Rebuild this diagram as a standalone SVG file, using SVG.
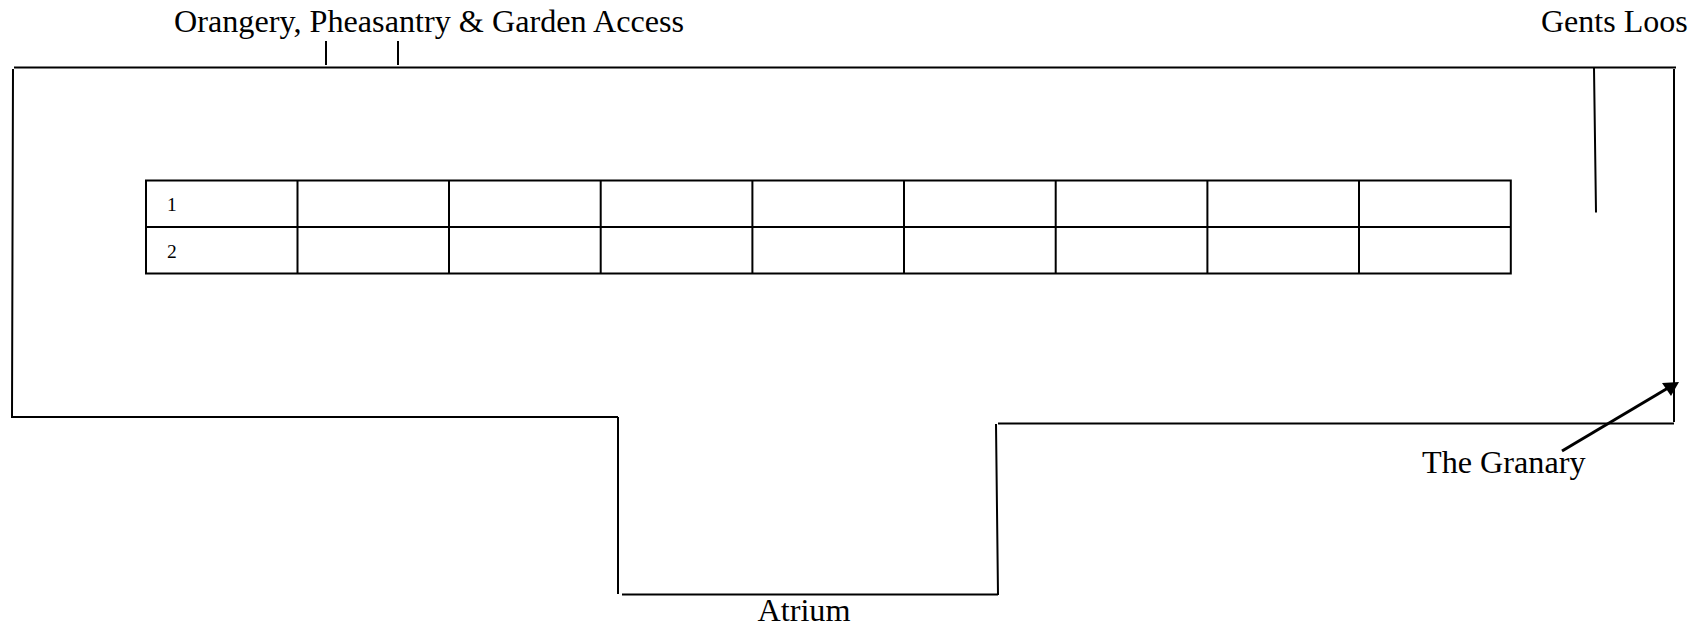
<svg xmlns="http://www.w3.org/2000/svg" width="1703" height="626" viewBox="0 0 1703 626">
<style>
text{font-family:"Liberation Serif","Times New Roman",serif;fill:#000}
.l{font-size:32.2px}
.n{font-size:19.5px}
.w{stroke:#000;stroke-width:2;fill:none}
</style>
<rect width="1703" height="626" fill="#fff"/>
<g id="connectors">
<path class="w" d="M14 67.500H1676M13 69L12 418M12 417H618M618 417V594M622 594.500H998M998 595L996 424M998 423.500H1674M1674 69V422M326 41V65M398 41V65M1594 68L1596 212.500"/>
<path d="M1562 451L1668 388" stroke="#000" stroke-width="3" fill="none"/>
<polygon points="1662,383 1679,382 1671,396" fill="#000"/>
</g>
<g id="table">
<path class="w" d="M146 180.500H1510.800V273.500H146ZM146 227H1510.800M297.500 180.500V273.500M449 180.500V273.500M600.700 180.500V273.500M752.400 180.500V273.500M904 180.500V273.500M1055.700 180.500V273.500M1207.400 180.500V273.500M1359 180.500V273.500"/>
<text class="n" x="167" y="211">1</text>
<text class="n" x="167" y="257.500">2</text>
</g>
<g id="orangery"><text class="l" x="174" y="32">Orangery, Pheasantry &amp; Garden Access</text></g>
<g id="gents"><text class="l" x="1541" y="32" style="font-size:32px">Gents Loos</text></g>
<g id="granary"><text class="l" x="1422" y="473">The Granary</text></g>
<g id="atrium"><text class="l" x="757.500" y="621">Atrium</text></g>
</svg>
